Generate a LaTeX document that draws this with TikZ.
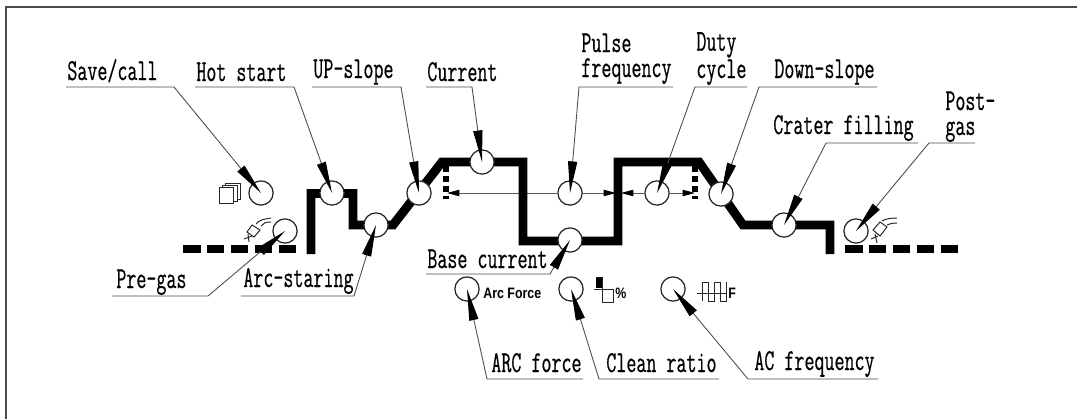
\documentclass[tikz,border=0pt]{standalone}
\usepackage{fontspec}
\setmainfont[FakeStretch=0.64,FakeBold=0.5]{Latin Modern Mono}
\newfontfamily\iconfont[FakeStretch=0.82]{Liberation Sans}
\usepackage{tikz}
\usetikzlibrary{arrows.meta,positioning,backgrounds}
\usetikzlibrary{calc}
\tikzset{
  knob/.style={draw=black!85,circle,fill=white,line width=.7pt,inner sep=0pt,minimum size=13.8pt},
  lbl/.style={anchor=base west,inner sep=0pt,font=\fontsize{17.3}{14.2}\selectfont,align=left},
  leader/.style={draw=black!70,line width=.5pt,-{Triangle[length=18pt,width=5.2pt,black]}},
  weld/.style={line width=5.1pt,miter limit=10},
  gasline/.style={line width=5.1pt,dash pattern=on 10pt off 3.6pt},
  marker/.style={line width=3.4pt,dash pattern=on 3.4pt off 2.2pt},
  span/.style={draw=black!65,line width=.5pt,-{Triangle[length=7pt,width=3.6pt,black]}},
  icon/.style={draw=black!85,line width=.55pt},
  iconlbl/.style={anchor=base west,inner sep=0pt,font=\iconfont\bfseries\fontsize{8.6}{9}\selectfont}
}
\begin{document}
\begin{tikzpicture}[x=.02cm,y=-.02cm]
\useasboundingbox (0,0) rectangle (1077,419);
\draw[draw=black!70,line width=1.1pt] (6,419) -- (6,7) -- (1077,7);

\node[knob] (save) at (261,193) {};
\node[knob] (hot) at (332,193) {};
\node[knob] (up) at (419,193) {};
\node[knob] (cur) at (482,162) {};
\node[knob] (pulse) at (570,193) {};
\node[knob] (duty) at (657,193) {};
\node[knob] (down) at (721,194) {};
\node[knob] (crater) at (784,225) {};
\node[knob] (post) at (856,231) {};
\node[knob] (pre) at (285,231) {};
\node[knob] (arc) at (376,225) {};
\node[knob] (base) at (570,240) {};
\node[knob] (force) at (467,289) {};
\node[knob] (clean) at (571,289) {};
\node[knob] (acf) at (673,289) {};

\coordinate (markl) at (447,193);
\coordinate (markr) at (695,193);
\coordinate (wallr) at (616,193);
\coordinate (walll) at (621,193);

\begin{scope}[on background layer]
\draw[gasline] (183,249) -- (297,249);
\draw[gasline] (845,249) -- (958,249);
\draw[marker] (446,166) -- (446,199);
\draw[marker] (695,166) -- (695,199);
\draw[span] (pulse) -- (markl);
\draw[span] (pulse) -- (wallr);
\draw[span] (duty) -- (walll);
\draw[span] (duty) -- (markr);
\draw[weld] (311,254) -- (311,193.5) -- (353,193.5) -- (353,225) -- (393,225) -- (442,162) -- (523,162) -- (523,241) -- (618,241) -- (618,162) -- (699,162) -- (743,225) -- (830,225) -- (830,254);
\end{scope}

\node[lbl] (savet) at (67,80) {Save/call};
\node[lbl] (hott) at (196,81) {Hot start};
\node[lbl] (upt) at (313,78) {UP-slope};
\node[lbl] (curt) at (427,81) {Current};
\node[lbl] (pulset) at (581,77) {Pulse\\frequency};
\node[lbl] (dutyt) at (696,78) {Duty\\cycle};
\node[lbl] (downt) at (774,78) {Down-slope};
\node[lbl] (cratert) at (773,134) {Crater filling};
\node[lbl] (postt) at (945,135) {Post-\\gas};
\node[lbl] (pret) at (116,288) {Pre-gas};
\node[lbl] (arct) at (243,287) {Arc-staring};
\node[lbl] (baset) at (427,268) {Base current};
\node[lbl] (forcet) at (491,372) {ARC force};
\node[lbl] (cleant) at (606,372) {Clean ratio};
\node[lbl] (acft) at (754,370) {AC frequency};

\coordinate (s1) at (66,87);
\coordinate (s2) at (174,87);
\coordinate (h1) at (195,87);
\coordinate (h2) at (294,87);
\coordinate (u1) at (312,87);
\coordinate (u2) at (401,87);
\coordinate (c1) at (426,87);
\coordinate (c2) at (472,87);
\coordinate (p1) at (673,87);
\coordinate (p2) at (579,87);
\coordinate (d1) at (747,87);
\coordinate (d2) at (695,87);
\coordinate (w1) at (877,87);
\coordinate (w2) at (759,87);
\coordinate (f1) at (918,143);
\coordinate (f2) at (826,143);
\coordinate (g1) at (975,143);
\coordinate (g2) at (929,143);
\coordinate (e1) at (112,296);
\coordinate (e2) at (208,296);
\coordinate (a1) at (241,296);
\coordinate (a2) at (354,296);
\coordinate (b1) at (426,274);
\coordinate (b2) at (550,274);
\coordinate (r1) at (583,379);
\coordinate (r2) at (487,379);
\coordinate (n1) at (719,379);
\coordinate (n2) at (599,379);
\coordinate (q1) at (878,379);
\coordinate (q2) at (748,379);

\draw[leader] (s1) -- (s2) -- (save.center);
\draw[leader] (h1) -- (h2) -- (hot.center);
\draw[leader] (u1) -- (u2) -- (up.center);
\draw[leader] (c1) -- (c2) -- (cur.center);
\draw[leader] (p1) -- (p2) -- (pulse.center);
\draw[leader] (d1) -- (d2) -- (duty.center);
\draw[leader] (w1) -- (w2) -- (down.center);
\draw[leader] (f1) -- (f2) -- (crater.center);
\draw[leader] (g1) -- (g2) -- (post.center);
\draw[leader] (e1) -- (e2) -- (pre.center);
\draw[leader] (a1) -- (a2) -- (arc.center);
\draw[leader] (b1) -- (b2) -- (base.center);
\draw[leader] (r1) -- (r2) -- (force.center);
\draw[leader] (n1) -- (n2) -- (clean.center);
\draw[leader] (q1) -- (q2) -- (acf.center);

\draw[icon,fill=white] (225,183) rectangle (240,199);
\draw[icon,fill=white] (222,185) rectangle (237,201);
\draw[icon,fill=white] (219,187) rectangle (233,203);

\draw[icon] (252,225) -- (260,230) -- (254,237) -- (247,232) -- cycle;
\draw[icon] (256,224) .. controls (259,220) and (264,219) .. (271,218);
\draw[icon] (261,226) .. controls (263,223) and (266,222) .. (271,222);
\draw[icon] (244,239) -- (252,236);
\draw[icon] (248,234) -- (249,242);

\draw[icon] (880,222) -- (887,227) -- (880,236) -- (873,230) -- cycle;
\draw[icon] (882,221) .. controls (885,219) and (890,218) .. (897,218);
\draw[icon] (887,225) .. controls (889,224) and (892,223) .. (897,223);
\draw[icon] (871,239) -- (878,236);
\draw[icon] (875,234) -- (877,243);

\node[iconlbl] (forcei) at (483,298) {Arc Force};

\fill (596,277) rectangle (603,288);
\draw[icon] (594,289) -- (613,289) -- (613,302) -- (602,302) -- (602,277) -- (596,277);
\node[iconlbl] (cleani) at (615,298) {\%};

\draw[icon] (697,293) -- (727,293);
\draw[icon] (702,301) -- (702,282) -- (708,282) -- (708,301) -- (714,301) -- (714,282) -- (720,282) -- (720,301) -- (726,301) -- (726,282);
\node[iconlbl] (acfi) at (728,298) {F};
\end{tikzpicture}
\end{document}
